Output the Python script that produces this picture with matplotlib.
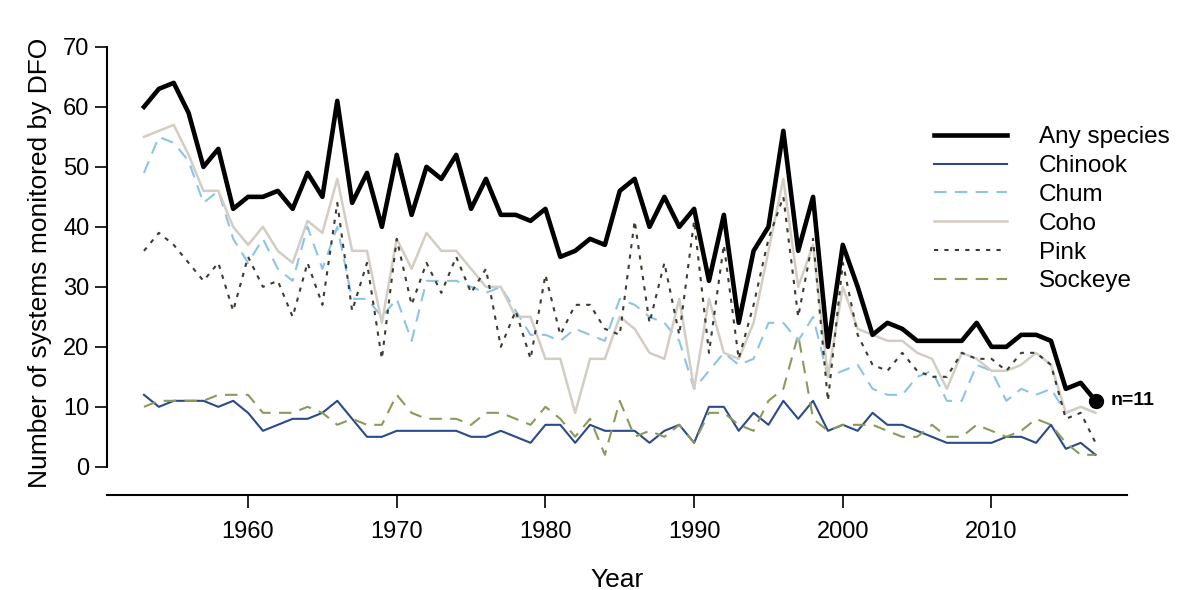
import matplotlib
matplotlib.use("Agg")
import matplotlib.pyplot as plt
import numpy as np

plt.rcParams['font.family'] = ['Liberation Sans', 'DejaVu Sans']

years = list(range(1953, 2018))
any_species = [60,63,64,59,50,53,43,45,45,46,43,49,45,61,44,49,40,52,42,50,48,52,43,48,42,42,41,43,35,36,38,37,46,48,40,45,40,43,31,42,24,36,40,56,36,45,20,37,30,22,24,23,21,21,21,21,24,20,20,22,22,21,13,14,11]
chinook = [12,10,11,11,11,10,11,9,6,7,8,8,9,11,8,5,5,6,6,6,6,6,5,5,6,5,4,7,7,4,7,6,6,6,4,6,7,4,10,10,6,9,7,11,8,11,6,7,6,9,7,7,6,5,4,4,4,4,5,5,4,7,3,4,2]
chum = [49,55,54,51,44,46,38,34,38,33,31,40,33,40,28,28,25,28,21,31,31,31,30,29,30,26,22,22,21,23,22,21,28,27,25,24,21,13,16,19,17,18,24,24,21,25,15,16,17,13,12,12,15,16,11,11,17,16,11,13,12,13,9,10,9]
coho = [55,56,57,52,46,46,40,37,40,36,34,41,39,48,36,36,24,38,33,39,36,36,33,30,30,25,25,18,18,9,18,18,25,23,19,18,28,13,28,19,18,24,36,48,30,37,15,30,23,22,21,21,19,18,13,19,18,16,16,17,19,17,9,10,9]
pink = [36,39,37,34,31,34,26,35,30,31,25,34,27,44,26,34,18,38,27,34,29,35,29,33,20,26,18,32,22,27,27,23,22,41,24,34,22,41,19,37,18,27,38,45,25,38,11,34,22,17,16,19,16,15,15,19,18,18,16,19,19,17,8,9,4]
sockeye = [10,11,11,11,11,12,12,12,9,9,9,10,9,7,8,7,7,12,9,8,8,8,7,9,9,8,7,10,8,5,8,2,11,5,6,5,7,4,9,9,7,6,11,13,22,8,6,7,7,7,6,5,5,7,5,5,7,6,5,6,8,7,4,2,2]
labels = ["Any species", "Chinook", "Chum", "Coho", "Pink", "Sockeye"]
xticks = [1960, 1970, 1980, 1990, 2000, 2010]
yticks = [0, 10, 20, 30, 40, 50, 60, 70]

fig = plt.figure(figsize=(12, 5.9), dpi=100)
ax = fig.add_axes([0.089, 0.161, 0.85, 0.788])

ax.plot(years, chinook, color='#2b4a8c', lw=1.5, label=labels[1])
ax.plot(years, sockeye, color='#8a9a5b', lw=1.5, dashes=(6, 4), label=labels[5])
ax.plot(years, chum, color='#8cc4e6', lw=1.5, dashes=(6, 4), label=labels[2])
ax.plot(years, coho, color='#d3cdc3', lw=1.8, label=labels[3])
ax.plot(years, pink, color='#3a3d30', lw=1.5, dashes=(2, 3), label=labels[4])
ax.plot(years, any_species, color='black', lw=3.3, label=labels[0])
ax.plot([years[-1]], [any_species[-1]], 'o', color='black', ms=10)
ax.text(years[-1] + 1.0, any_species[-1], "n=%d" % any_species[-1], fontsize=14,
        fontweight='bold', va='center', ha='left')

ax.set_xlim(1950.5, 2019.1)
ax.set_ylim(-4.7, 72.8)
ax.set_xticks(xticks)
ax.set_yticks(yticks)
ax.spines['top'].set_visible(False)
ax.spines['right'].set_visible(False)
ax.spines['left'].set_bounds(0, 70)
ax.spines['left'].set_linewidth(1.5)
ax.spines['bottom'].set_linewidth(1.5)
ax.tick_params(axis='both', labelsize=17, length=9, width=1.2, direction='out')
ax.tick_params(axis='x', pad=10)
ax.set_xlabel("Year", fontsize=19, labelpad=18)
ax.set_ylabel("Number of systems monitored by DFO", fontsize=19, labelpad=8)

h, l = ax.get_legend_handles_labels()
order = [l.index(n) for n in labels]
ax.legend([h[i] for i in order], [l[i] for i in order], loc='upper left',
          bbox_to_anchor=(0.79, 0.84), frameon=False, fontsize=17.5,
          handlelength=3.0, handletextpad=1.3, labelspacing=0.28)

fig.savefig("out.png", dpi=100)
